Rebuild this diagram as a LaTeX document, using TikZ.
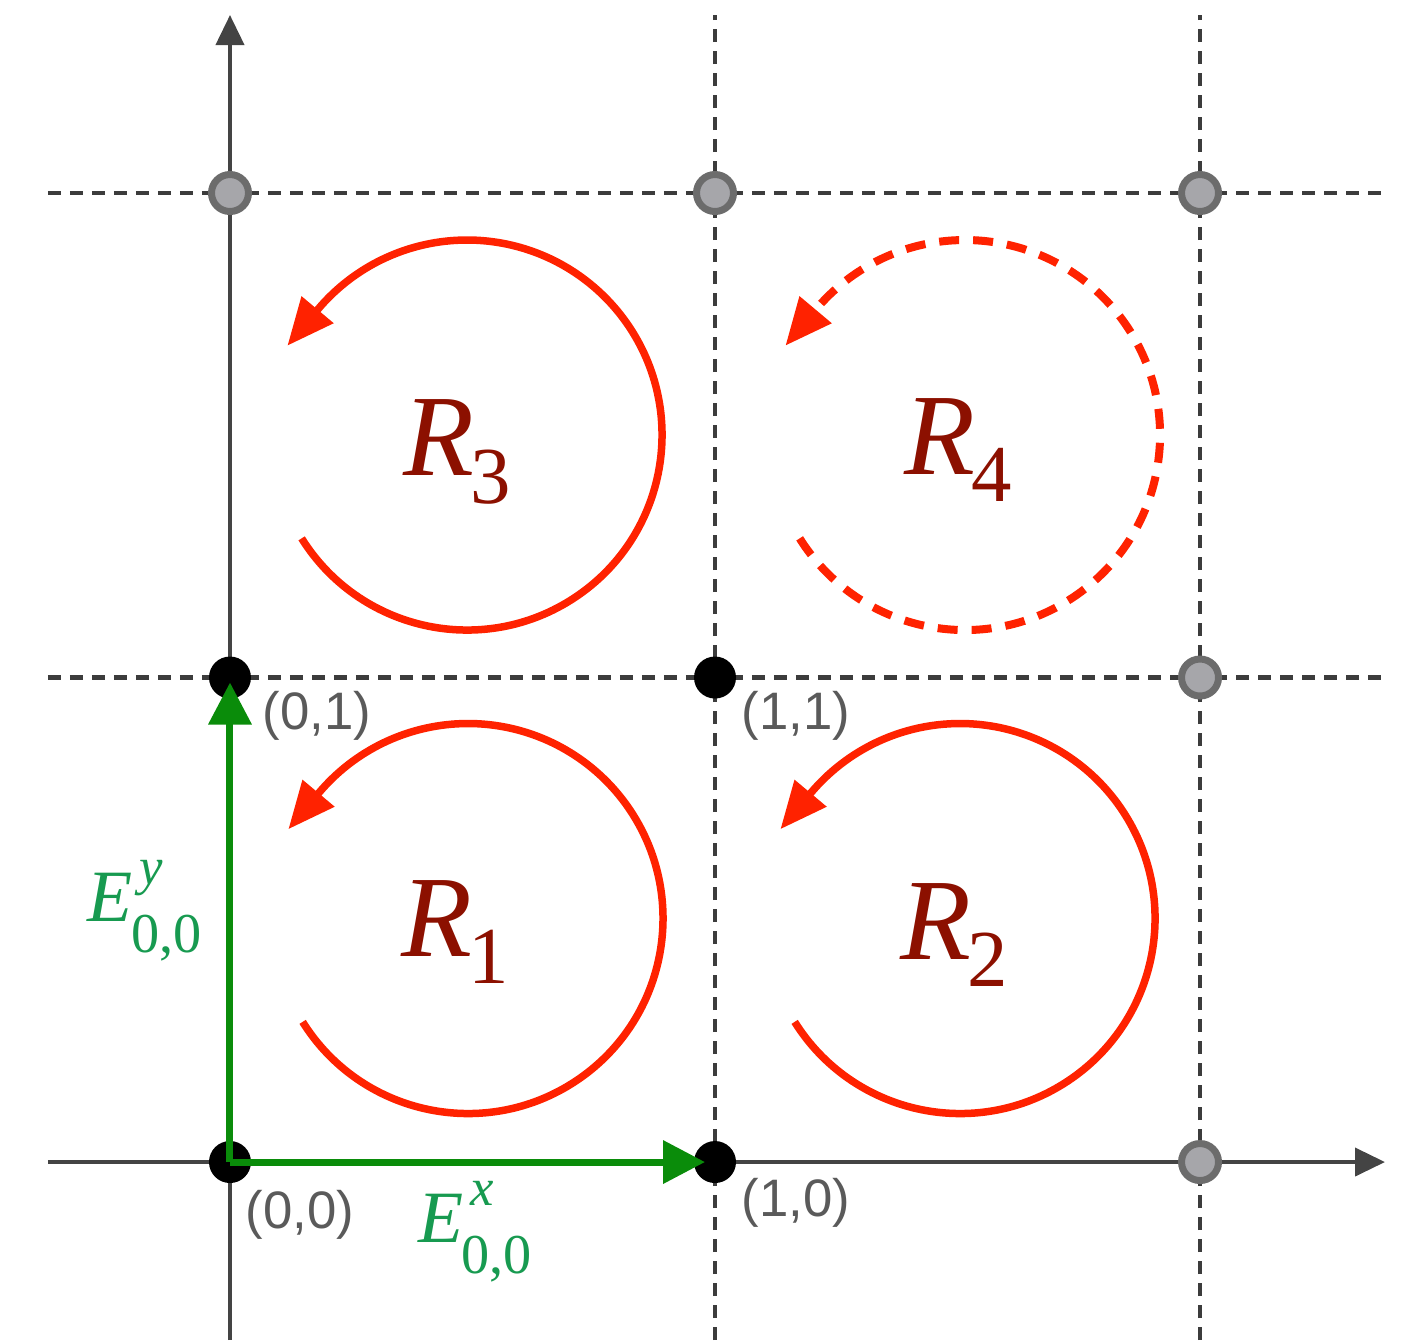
\documentclass[tikz,border=0pt]{standalone}
\usepackage{fontspec}
\setmainfont{Liberation Serif}
\setsansfont{Liberation Sans}
\usetikzlibrary{arrows.meta}
\definecolor{axisln}{HTML}{444444}
\definecolor{gridln}{HTML}{3C3C3C}
\definecolor{ptgray}{HTML}{A6A6AA}
\definecolor{ptring}{HTML}{6C6C6C}
\definecolor{curl}{HTML}{FF2200}
\definecolor{regtxt}{HTML}{8C1000}
\definecolor{flux}{HTML}{0A8C0A}
\definecolor{fluxtxt}{HTML}{179A50}
\definecolor{coordtxt}{HTML}{5A5A5A}
\newcommand{\regname}[1]{\textit{R}\kern-0.03em\raisebox{-0.24em}{\fontsize{23}{23}\selectfont #1}}
\newcommand{\fluxname}[1]{\textit{E}\rlap{\kern0.1em\raisebox{0.5em}{\fontsize{15}{15}\selectfont\itshape #1}}\kern-0.02em\raisebox{-0.42em}{\fontsize{16}{16}\selectfont 0,0}}
\tikzset{
  axis/.style={draw=axisln,line width=0.04cm,-{Triangle[length=0.3cm,width=0.28cm]}},
  gridline/.style={draw=gridln,line width=0.045cm,dash pattern=on 0.13cm off 0.09cm},
  vtx/.style={circle,fill=black,inner sep=0pt,minimum size=0.42cm},
  ghost/.style={circle,fill=ptgray,draw=ptring,line width=0.07cm,inner sep=0pt,minimum size=0.37cm},
  spin/.style={draw=curl,line width=0.075cm,-{Triangle[length=0.47cm,width=0.4cm]}},
  spinopen/.style={spin,line width=0.08cm,dash pattern=on 0.2cm off 0.14cm},
  flow/.style={draw=flux,line width=0.07cm,-{Triangle[length=0.42cm,width=0.42cm]}},
  coordlab/.style={font=\sffamily\fontsize{15}{15}\selectfont,text=coordtxt,inner sep=0pt},
  reglab/.style={font=\fontsize{33}{33}\selectfont,text=regtxt,inner sep=0pt},
  fluxlab/.style={font=\fontsize{21}{21}\selectfont,text=fluxtxt,inner sep=0pt},
}
\begin{document}
\begin{tikzpicture}[x=4.85cm,y=4.845cm]
\useasboundingbox (-0.4742,-0.3674) rectangle (2.4412,2.3984);

% grid
\foreach \v in {1,2}{
  \draw[gridline] (-0.3753,\v) -- (2.3814,\v);
  \draw[gridline] (\v,-0.3674) -- (\v,2.3674);
}

% axes
\coordinate (xs) at (-0.3753,0);
\coordinate (xe) at (2.3814,0);
\coordinate (ys) at (0,-0.3674);
\coordinate (ye) at (0,2.3674);
\draw[axis] (xs) -- (xe);
\draw[axis] (ys) -- (ye);

% lattice points
\foreach \i/\j in {0/2,1/2,2/2,2/1,2/0}
  \node[ghost] (g\i\j) at (\i,\j) {};
\node[vtx] (p00) at (0,0) {};
\node[vtx] (p10) at (1,0) {};
\node[vtx] (p01) at (0,1) {};
\node[vtx] (p11) at (1,1) {};

\node[coordlab] (l01) at (0.1794,0.9205) {(0,1)};
\node[coordlab] (l11) at (1.1670,0.9205) {(1,1)};
\node[coordlab] (l00) at (0.1443,-0.1094) {(0,0)};
\node[coordlab] (l10) at (1.1670,-0.0846) {(1,0)};

% circulation round each cell
\coordinate (c1) at (0.4907,0.5026);
\coordinate (c2) at (1.5052,0.5026);
\coordinate (c3) at (0.4887,1.5005);
\coordinate (c4) at (1.5155,1.5005);
\draw[spin] (c1) ++(212:1.95cm) arc[start angle=212,end angle=500,radius=1.95cm] -- ++(230:0.47cm);
\draw[spin] (c2) ++(212:1.95cm) arc[start angle=212,end angle=500,radius=1.95cm] -- ++(230:0.47cm);
\draw[spin] (c3) ++(212:1.95cm) arc[start angle=212,end angle=500,radius=1.95cm] -- ++(230:0.47cm);
\draw[spinopen] (c4) ++(212:1.95cm) arc[start angle=212,end angle=500,radius=1.95cm] -- ++(230:0.47cm);

\node[reglab] (r1) at (0.4639,0.4747) {\regname{1}};
\node[reglab] (r2) at (1.4928,0.4685) {\regname{2}};
\node[reglab] (r3) at (0.4680,1.4655) {\regname{3}};
\node[reglab] (r4) at (1.5010,1.4696) {\regname{4}};

% edge fields
\draw[flow,shorten >=0.1cm] (p00.center) -- (p10.center);
\draw[flow,shorten >=0.05cm] (p00.center) -- (p01.center);
\node[fluxlab] (ey) at (-0.1763,0.5181) {\fluxname{y}};
\node[fluxlab] (ex) at (0.5052,-0.1445) {\fluxname{x}};
\end{tikzpicture}
\end{document}
